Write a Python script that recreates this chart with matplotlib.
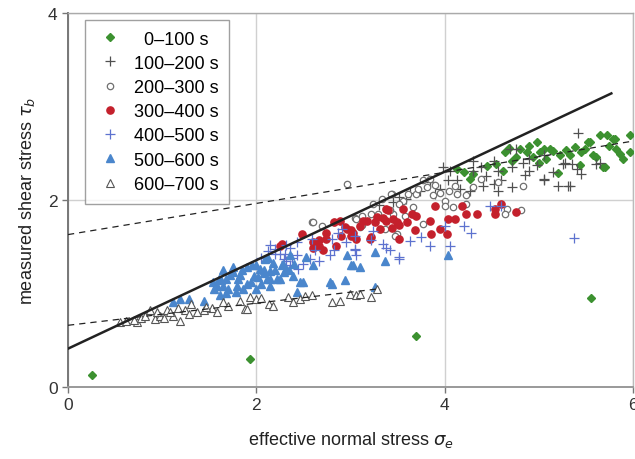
import matplotlib
matplotlib.use("Agg")
import matplotlib.pyplot as plt

plt.rcParams["font.family"] = ["Liberation Sans", "DejaVu Sans"]
plt.rcParams["mathtext.fontset"] = "dejavusans"

# ---- data (effective normal stress, measured shear stress) ----
labels = ["\u20070\u2013100 s", "100\u2013200 s", "200\u2013300 s", "300\u2013400 s",
          "400\u2013500 s", "500\u2013600 s", "600\u2013700 s"]

x_0_100 = [0.25, 1.93, 3.70, 5.55, 4.13, 4.30, 4.27, 4.64, 4.62, 4.71, 4.76, 4.87, 4.94,
           4.98, 5.01, 5.05, 5.08, 5.12, 5.20, 5.22, 5.29, 5.33, 5.44, 5.49, 5.54, 5.61,
           5.65, 5.72, 5.75, 5.79, 5.82, 5.86, 5.89, 5.97, 5.97, 5.70, 5.81, 5.68, 5.45,
           5.58, 5.52, 4.80, 4.90, 5.00, 4.55, 4.68, 5.15, 5.38, 4.20, 4.45]
y_0_100 = [0.13, 0.30, 0.55, 0.95, 2.33, 2.28, 2.22, 2.51, 2.31, 2.42, 2.46, 2.51, 2.46,
           2.62, 2.51, 2.55, 2.44, 2.55, 2.29, 2.48, 2.53, 2.48, 2.37, 2.55, 2.62, 2.46,
           2.69, 2.69, 2.58, 2.65, 2.55, 2.49, 2.44, 2.69, 2.51, 2.35, 2.65, 2.35, 2.51,
           2.48, 2.62, 2.55, 2.58, 2.40, 2.38, 2.56, 2.52, 2.57, 2.30, 2.36]

x_100_200 = [4.30, 4.52, 4.69, 4.76, 4.71, 4.71, 4.83, 4.90, 5.06, 5.20, 5.31, 5.26, 5.40,
             5.45, 5.61, 5.42, 3.98, 4.04, 4.13, 4.16, 3.95, 3.84, 3.90, 3.74, 3.63, 4.39,
             4.44, 4.57, 4.60, 4.90, 4.98, 4.52, 4.41, 4.30, 4.57, 4.27, 4.06, 3.59, 5.28,
             5.35, 5.65, 5.06, 5.33, 5.06, 3.45, 3.30, 3.52, 4.85, 5.15]
y_100_200 = [2.42, 2.42, 2.55, 2.55, 2.35, 2.14, 2.40, 2.31, 2.22, 2.15, 2.15, 2.39, 2.33,
             2.28, 2.39, 2.72, 2.35, 2.21, 2.21, 2.12, 2.12, 2.19, 2.06, 2.10, 2.08, 2.35,
             2.26, 2.31, 2.21, 2.44, 2.37, 2.17, 2.15, 2.31, 2.10, 2.10, 2.31, 2.01, 2.40,
             2.39, 2.40, 2.21, 2.15, 2.48, 1.98, 1.95, 2.03, 2.27, 2.30]

x_200_300 = [2.96, 3.33, 3.44, 3.56, 3.70, 3.81, 3.77, 3.84, 4.11, 4.13, 4.23, 4.30, 4.39,
             4.57, 4.83, 4.00, 4.00, 4.09, 4.23, 4.66, 4.64, 4.81, 3.88, 3.58, 3.77, 3.49,
             3.24, 3.29, 3.05, 3.10, 3.37, 3.12, 3.45, 2.59, 2.82, 3.06, 3.22, 3.43, 3.51,
             3.61, 3.42, 3.12, 3.47, 2.60, 2.70, 3.95, 3.66, 3.90, 4.05, 3.72]
y_200_300 = [2.17, 2.01, 2.06, 1.99, 2.06, 2.14, 2.21, 2.22, 2.15, 2.06, 2.05, 2.14, 2.22,
             2.19, 2.15, 1.99, 1.94, 1.92, 1.96, 1.90, 1.85, 1.89, 2.05, 1.83, 1.74, 1.64,
             1.96, 1.85, 1.81, 1.71, 1.69, 1.83, 1.85, 1.76, 1.76, 1.80, 1.85, 2.06, 1.96,
             2.06, 1.89, 1.73, 1.62, 1.76, 1.72, 2.08, 1.92, 2.16, 2.10, 2.12]

x_300_400 = [2.25, 2.60, 2.74, 2.82, 2.96, 3.03, 2.67, 2.85, 2.27, 2.48, 2.67, 2.74, 2.89,
             2.94, 3.01, 3.17, 3.22, 3.26, 3.31, 3.38, 3.45, 3.52, 3.60, 3.65, 3.70, 3.68,
             3.06, 2.71, 2.60, 3.38, 3.56, 3.13, 3.21, 3.35, 3.40, 3.49, 3.51, 3.84, 3.90,
             3.95, 4.02, 4.04, 4.11, 4.18, 4.23, 4.34, 4.53, 4.53, 4.60, 4.76, 3.86, 3.00,
             3.10, 3.28, 3.44, 2.90]
y_300_400 = [1.51, 1.55, 1.58, 1.76, 1.69, 1.65, 1.51, 1.51, 1.53, 1.64, 1.57, 1.65, 1.78,
             1.71, 1.68, 1.78, 1.60, 1.76, 1.69, 1.78, 1.80, 1.73, 1.76, 1.85, 1.83, 1.68,
             1.58, 1.46, 1.49, 1.90, 1.90, 1.78, 1.58, 1.81, 1.89, 1.76, 1.58, 1.78, 1.94,
             1.69, 1.64, 1.80, 1.80, 1.94, 1.85, 1.85, 1.85, 1.90, 1.96, 1.87, 1.64, 1.62,
             1.72, 1.82, 1.70, 1.62]

x_400_500 = [2.30, 2.36, 2.43, 2.59, 2.62, 2.57, 2.67, 2.78, 2.80, 2.91, 3.05, 3.06, 3.22,
             3.38, 3.51, 2.32, 2.43, 2.50, 2.44, 2.83, 3.05, 3.35, 3.51, 3.63, 3.75, 3.84,
             4.00, 4.06, 4.20, 4.28, 4.48, 4.60, 3.24, 3.05, 2.87, 2.29, 2.36, 5.37, 3.42,
             2.95, 2.20, 2.05, 2.12, 2.20, 2.25, 2.32, 2.38, 2.15]
y_400_500 = [1.42, 1.49, 1.55, 1.58, 1.46, 1.37, 1.35, 1.41, 1.58, 1.69, 1.48, 1.41, 1.57,
             1.49, 1.39, 1.35, 1.41, 1.32, 1.26, 1.46, 1.46, 1.53, 1.37, 1.56, 1.60, 1.51,
             1.72, 1.51, 1.72, 1.65, 1.94, 1.94, 1.67, 1.62, 1.65, 1.37, 1.30, 1.59, 1.46,
             1.55, 1.42, 1.38, 1.45, 1.48, 1.42, 1.52, 1.38, 1.52]

x_500_600 = [1.58, 1.68, 1.75, 1.90, 1.97, 2.04, 2.11, 2.18, 2.25, 2.32, 2.39, 2.46, 2.14,
             2.00, 1.86, 1.61, 1.79, 2.78, 2.94, 3.03, 2.60, 2.53, 2.36, 2.09, 1.12, 1.19,
             1.29, 1.44, 2.96, 3.01, 3.10, 3.37, 2.50, 2.80, 3.26, 3.26, 4.04, 1.54, 1.65,
             1.75, 2.00, 2.22, 2.29, 1.68, 1.83, 1.94, 2.08, 2.15, 2.43, 1.62, 2.05, 2.27,
             1.55, 1.60, 1.70, 1.72, 1.80, 1.85, 1.90, 1.95, 2.02, 2.08, 2.12, 2.20, 2.28,
             2.35, 2.40, 1.65, 1.78, 2.15]
y_500_600 = [1.08, 1.16, 1.28, 1.28, 1.19, 1.26, 1.16, 1.33, 1.16, 1.26, 1.19, 1.12, 1.08,
             1.05, 1.05, 0.98, 1.08, 1.12, 1.14, 1.30, 1.30, 1.39, 1.41, 1.37, 0.91, 0.94,
             0.94, 0.92, 1.41, 1.30, 1.28, 1.35, 1.12, 1.10, 1.44, 1.07, 1.41, 1.12, 1.08,
             1.23, 1.30, 1.16, 1.23, 1.01, 1.20, 1.12, 1.22, 1.24, 1.02, 1.14, 1.10, 1.30,
             1.05, 1.15, 1.05, 1.20, 1.15, 1.25, 1.10, 1.30, 1.18, 1.25, 1.38, 1.25, 1.32,
             1.25, 1.32, 1.25, 1.02, 1.15]

x_600_700 = [0.55, 0.62, 0.73, 0.78, 0.87, 0.92, 0.98, 1.05, 1.12, 1.17, 1.19, 1.24, 1.31,
             1.37, 1.44, 1.53, 1.58, 1.65, 1.83, 1.88, 1.93, 2.00, 2.13, 2.18, 2.34, 2.39,
             2.46, 2.59, 2.80, 2.89, 2.99, 3.06, 3.10, 3.22, 3.28, 1.90, 0.82, 0.95, 1.02,
             1.08, 1.28, 0.70, 1.70, 2.05, 2.52, 1.47]
y_600_700 = [0.69, 0.71, 0.69, 0.74, 0.82, 0.73, 0.76, 0.82, 0.76, 0.85, 0.71, 0.82, 0.89,
             0.80, 0.82, 0.85, 0.80, 0.91, 0.92, 0.83, 0.96, 0.94, 0.89, 0.87, 0.96, 0.91,
             0.94, 0.98, 0.91, 0.92, 0.99, 0.98, 0.99, 0.96, 1.05, 0.83, 0.76, 0.80, 0.74,
             0.80, 0.78, 0.72, 0.87, 0.95, 0.97, 0.86]

# fitted lines (end points)
fit_x, fit_y = [0.0, 5.77], [0.41, 3.14]
upper_x, upper_y = [0.0, 6.0], [1.63, 2.63]
lower_x, lower_y = [0.0, 3.30], [0.66, 1.05]

series = [(x_0_100, y_0_100), (x_100_200, y_100_200), (x_200_300, y_200_300),
          (x_300_400, y_300_400), (x_400_500, y_400_500), (x_500_600, y_500_600),
          (x_600_700, y_600_700)]
styles = [
    dict(marker="D", ms=4.2, color="#3c9130", mec="#3c9130", ls="none"),
    dict(marker="+", ms=6.5, color="#505050", mew=0.9, ls="none"),
    dict(marker="o", ms=4.6, mfc="white", mec="#707070", mew=0.9, ls="none"),
    dict(marker="o", ms=5.2, color="#c4202c", mec="#c4202c", ls="none"),
    dict(marker="+", ms=6.5, color="#5d72cf", mew=0.9, ls="none"),
    dict(marker="^", ms=5.6, color="#4a86cc", mec="#4a86cc", ls="none"),
    dict(marker="^", ms=5.6, mfc="white", mec="#555555", mew=0.8, ls="none"),
]

fig = plt.figure(figsize=(6.35, 4.6), dpi=100)
ax = fig.add_axes([68 / 635, 1 - 388 / 460, 565 / 635, 374 / 460])

for (xs, ys), st, lab in zip(series, styles, labels):
    ax.plot(xs, ys, label=lab, zorder=3, **st)

ax.plot(fit_x, fit_y, color="#222222", lw=1.8, zorder=5)
ax.plot(upper_x, upper_y, color="#222222", lw=0.9, ls=(0, (5, 4)), zorder=5)
ax.plot(lower_x, lower_y, color="#222222", lw=0.9, ls=(0, (5, 4)), zorder=5)

ax.set_xlim(0, 6)
ax.set_ylim(0, 4)
ax.set_xticks([0, 2, 4, 6])
ax.set_yticks([0, 2, 4])
ax.grid(color="#d0d0d0", lw=1.0, zorder=0)
ax.set_axisbelow(True)
ax.tick_params(labelsize=12.5, labelcolor="#333333", color="#777777", length=4, width=1)
for side, c in [("left", "#777777"), ("bottom", "#999999"), ("top", "#aaaaaa"), ("right", "#bbbbbb")]:
    ax.spines[side].set_color(c)
    ax.spines[side].set_linewidth(1.4 if side in ("left", "bottom") else 1.0)

ax.set_xlabel(r"effective normal stress $\sigma_e$", fontsize=13, color="#222222", labelpad=12)
ax.set_ylabel(r"measured shear stress $\tau_b$", fontsize=13, color="#222222", labelpad=8)

leg = ax.legend(loc="upper left", bbox_to_anchor=(0.03, 0.982), fontsize=13,
                frameon=True, fancybox=False, edgecolor="#888888", borderpad=0.6,
                labelspacing=0.4, handletextpad=0.5, handlelength=1.6, borderaxespad=0)
leg.get_frame().set_linewidth(1.0)

fig.savefig("out.png", dpi=100)
